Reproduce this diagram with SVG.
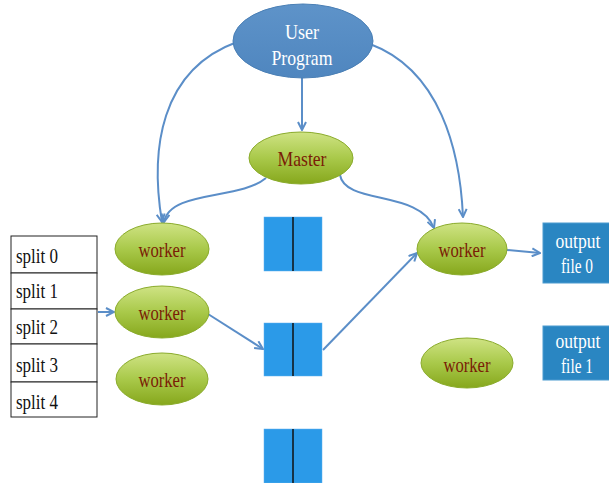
<svg xmlns="http://www.w3.org/2000/svg" width="609" height="483" viewBox="0 0 609 483">
<defs>
<linearGradient id="g" x1="0" y1="0" x2="0" y2="1">
<stop offset="0" stop-color="#cfe384"/>
<stop offset="0.5" stop-color="#a9c94a"/>
<stop offset="1" stop-color="#86a71c"/>
</linearGradient>
<linearGradient id="b" x1="0" y1="0" x2="0" y2="1">
<stop offset="0" stop-color="#5e93c9"/>
<stop offset="1" stop-color="#4f86bf"/>
</linearGradient>
<marker id="a" viewBox="0 0 10 10" refX="9" refY="5" markerWidth="5" markerHeight="5" orient="auto" markerUnits="strokeWidth">
<path d="M1,1 L9,5 L1,9" fill="none" stroke="#5b8ec8" stroke-width="2"/>
</marker>
</defs>
<style>
text{font-family:Liberation Serif,serif}
.w{fill:url(#g);stroke:#8aab2b;stroke-width:1}
.wt{fill:#7a1c06;text-anchor:middle}
.wh{fill:#ffffff;text-anchor:middle}
.bl{fill:#2b9ae8;stroke:#5fb0ee;stroke-width:0.5}
.div{stroke:#111;stroke-width:1.5}
.out{fill:#2a86c2;stroke:#4c9bd0;stroke-width:1}
.sp{fill:#fff;stroke:#222;stroke-width:1}
.st{fill:#111}
.c{fill:none;stroke:#5b8ec8;stroke-width:2;marker-end:url(#a)}
</style>
<g id="connectors">
<path class="c" d="M237,42 C160,70 150,150 162,222"/>
<path class="c" d="M302,77 L302,130"/>
<path class="c" d="M370,44 C440,70 460,150 463,217"/>
<path class="c" d="M266,178 C240,200 170,190 164,222"/>
<path class="c" d="M340,175 C345,205 420,190 434,228"/>
<path class="c" d="M98,312 L114,312"/>
<path class="c" d="M208,314 L263,349"/>
<path class="c" d="M323,350 L417,253"/>
<path class="c" d="M507,250 L540,253"/>
</g>
<g id="user-program">
<ellipse cx="303" cy="41" rx="70" ry="37" fill="url(#b)" stroke="#4a7fb5" stroke-width="1"/>
<text class="wh" x="302" y="39" font-size="22" textLength="34" lengthAdjust="spacingAndGlyphs">User</text>
<text class="wh" x="302" y="65" font-size="22" textLength="61" lengthAdjust="spacingAndGlyphs">Program</text>
</g>
<g id="master">
<ellipse class="w" cx="301" cy="158" rx="52" ry="26"/>
<text class="wt" x="302" y="166" font-size="21" textLength="49" lengthAdjust="spacingAndGlyphs">Master</text>
</g>
<g id="worker1">
<ellipse class="w" cx="162" cy="249" rx="47" ry="26"/>
<text class="wt" x="162" y="257" font-size="20" textLength="47" lengthAdjust="spacingAndGlyphs">worker</text>
</g>
<g id="worker2">
<ellipse class="w" cx="162" cy="312" rx="47" ry="26"/>
<text class="wt" x="162" y="320" font-size="20" textLength="47" lengthAdjust="spacingAndGlyphs">worker</text>
</g>
<g id="worker3">
<ellipse class="w" cx="162" cy="379" rx="46" ry="26"/>
<text class="wt" x="162" y="387" font-size="20" textLength="47" lengthAdjust="spacingAndGlyphs">worker</text>
</g>
<g id="worker4">
<ellipse class="w" cx="462" cy="249" rx="45" ry="26"/>
<text class="wt" x="462" y="257" font-size="20" textLength="47" lengthAdjust="spacingAndGlyphs">worker</text>
</g>
<g id="worker5">
<ellipse class="w" cx="467" cy="363" rx="46" ry="25"/>
<text class="wt" x="467" y="372" font-size="20" textLength="47" lengthAdjust="spacingAndGlyphs">worker</text>
</g>
<g id="inter1">
<rect class="bl" x="264" y="217" width="58" height="54"/>
<line class="div" x1="293" y1="217" x2="293" y2="271"/>
</g>
<g id="inter2">
<rect class="bl" x="264" y="323" width="58" height="53"/>
<line class="div" x1="293" y1="323" x2="293" y2="376"/>
</g>
<g id="inter3">
<rect class="bl" x="264" y="429" width="58" height="54"/>
<line class="div" x1="293" y1="429" x2="293" y2="483"/>
</g>
<g id="output0">
<rect class="out" x="543" y="223" width="70" height="60"/>
<text class="wh" x="578" y="248" font-size="20" textLength="45" lengthAdjust="spacingAndGlyphs">output</text>
<text class="wh" x="577" y="273" font-size="20" textLength="32" lengthAdjust="spacingAndGlyphs">file 0</text>
</g>
<g id="output1">
<rect class="out" x="543" y="326" width="70" height="54"/>
<text class="wh" x="578" y="348" font-size="20" textLength="45" lengthAdjust="spacingAndGlyphs">output</text>
<text class="wh" x="577" y="373" font-size="20" textLength="32" lengthAdjust="spacingAndGlyphs">file 1</text>
</g>
<g id="splits">
<rect class="sp" x="11" y="236" width="86" height="37"/>
<rect class="sp" x="11" y="273" width="86" height="36"/>
<rect class="sp" x="11" y="309" width="86" height="35"/>
<rect class="sp" x="11" y="344" width="86" height="38"/>
<rect class="sp" x="11" y="382" width="86" height="35"/>
<text class="st" x="16" y="263" font-size="20" textLength="42" lengthAdjust="spacingAndGlyphs">split 0</text>
<text class="st" x="16" y="298" font-size="20" textLength="42" lengthAdjust="spacingAndGlyphs">split 1</text>
<text class="st" x="16" y="334" font-size="20" textLength="42" lengthAdjust="spacingAndGlyphs">split 2</text>
<text class="st" x="16" y="372" font-size="20" textLength="42" lengthAdjust="spacingAndGlyphs">split 3</text>
<text class="st" x="16" y="409" font-size="20" textLength="42" lengthAdjust="spacingAndGlyphs">split 4</text>
</g>
</svg>
